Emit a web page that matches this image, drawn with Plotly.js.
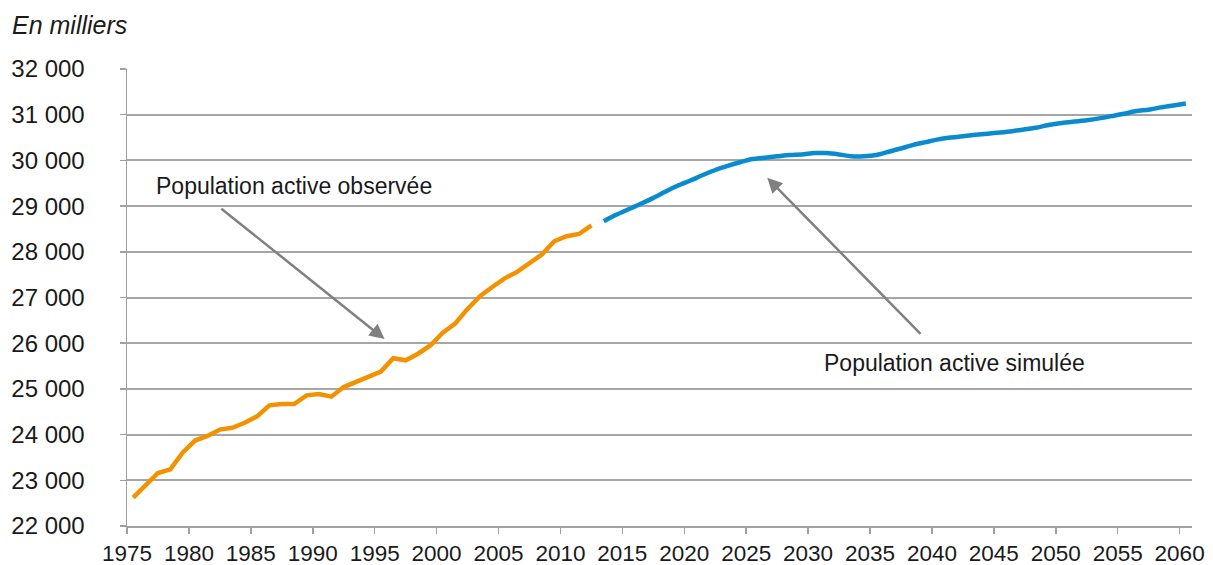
<!DOCTYPE html>
<html>
<head>
<meta charset="utf-8">
<script src="https://cdn.plot.ly/plotly-3.0.1.min.js"></script>
<style>
html,body{margin:0;padding:0;background:#fff;}
#chart{width:1213px;height:565px;}
</style>
</head>
<body>
<div id="chart"></div>
<script>
// Observed active population (thousands)
const obsYears = [1975,1976,1977,1978,1979,1980,1981,1982,1983,1984,1985,1986,1987,1988,1989,1990,1991,1992,1993,1994,1995,1996,1997,1998,1999,2000,2001,2002,2003,2004,2005,2006,2007,2008,2009,2010,2011,2012];
const obsValues = [22620,22890,23160,23240,23610,23870,23970,24110,24150,24260,24400,24640,24670,24670,24860,24890,24830,25040,25160,25260,25380,25670,25625,25770,25950,26230,26430,26750,27030,27230,27420,27560,27760,27940,28230,28340,28390,28580];

// Simulated active population (thousands)
const simYears = [2013,2014,2015,2016,2017,2018,2019,2020,2021,2022,2023,2024,2025,2026,2027,2028,2029,2030,2031,2032,2033,2034,2035,2036,2037,2038,2039,2040,2041,2042,2043,2044,2045,2046,2047,2048,2049,2050,2051,2052,2053,2054,2055,2056,2057,2058,2059,2060];
const simValues = [28670,28810,28930,29050,29180,29320,29450,29560,29680,29790,29880,29960,30030,30060,30090,30120,30130,30160,30160,30130,30090,30090,30120,30190,30260,30340,30400,30460,30500,30530,30560,30585,30610,30640,30680,30720,30780,30820,30850,30880,30920,30970,31020,31080,31110,31160,31200,31245];

// Axis tick labels
const xTickLabels = [1975,1980,1985,1990,1995,2000,2005,2010,2015,2020,2025,2030,2035,2040,2045,2050,2055,2060];
const yTickValues = [22000,23000,24000,25000,26000,27000,28000,29000,30000,31000,32000];

// Annotation texts
const labelObserved = "Population active observée";
const labelSimulated = "Population active simulée";
const unitLabel = "En milliers";

const font = "Liberation Sans, Arial, sans-serif";
const textColor = "#1a1a1a";
const arrowColor = "#808080";

const traces = [
  {x: obsYears, y: obsValues, type: 'scatter', mode: 'lines',
   line: {color: '#F39200', width: 4.5}, hoverinfo: 'x+y'},
  {x: simYears, y: simValues, type: 'scatter', mode: 'lines',
   line: {color: '#0A8BD0', width: 4.5, shape: 'spline', smoothing: 0.6}, hoverinfo: 'x+y'}
];

const layout = {
  width: 1213, height: 565,
  margin: {l: 127, r: 21, t: 69, b: 39},
  paper_bgcolor: '#fff', plot_bgcolor: '#fff',
  showlegend: false,
  separators: ', ',
  font: {family: font, size: 22, color: textColor},
  xaxis: {
    range: [1974.5, 2060.5],
    tickmode: 'array',
    tickvals: xTickLabels.map(v => v - 0.5),
    ticktext: xTickLabels.map(String),
    ticks: 'outside', ticklen: 6, tickwidth: 1.5, tickcolor: '#a0a0a0',
    showline: true, linecolor: '#a0a0a0', linewidth: 1.5,
    showgrid: false, zeroline: false,
    tickfont: {family: font, size: 22.5, color: textColor},
    fixedrange: true
  },
  yaxis: {
    range: [22000, 32000],
    tickmode: 'array',
    tickvals: yTickValues,
    tickformat: ',d',
    ticks: 'outside', ticklen: 6, tickwidth: 1.5, tickcolor: '#a0a0a0',
    ticklabelstandoff: 30,
    showline: true, linecolor: '#a0a0a0', linewidth: 1.5,
    showgrid: true, gridcolor: '#a6a6a6', gridwidth: 2,
    zeroline: false,
    tickfont: {family: font, size: 24, color: textColor},
    fixedrange: true
  },
  annotations: [
    {xref: 'paper', yref: 'paper', x: -117/1065, y: 1 + 44/457, xanchor: 'left', yanchor: 'middle',
     text: '<i>' + unitLabel + '</i>', showarrow: false,
     font: {family: font, size: 25, color: textColor}},
    {x: 1976.7, y: 29430, xanchor: 'left', yanchor: 'middle', text: labelObserved, showarrow: false,
     font: {family: font, size: 23, color: textColor}},
    {x: 2030.6, y: 25560, xanchor: 'left', yanchor: 'middle', text: labelSimulated, showarrow: false,
     font: {family: font, size: 23, color: textColor}},
    {x: 1995.3, y: 26090, ax: 1982.0, ay: 28970, axref: 'x', ayref: 'y', text: '',
     showarrow: true, arrowhead: 2, arrowsize: 1.2, arrowwidth: 2.5, arrowcolor: arrowColor},
    {x: 2026.2, y: 29620, ax: 2038.7, ay: 26170, axref: 'x', ayref: 'y', text: '',
     showarrow: true, arrowhead: 2, arrowsize: 1.2, arrowwidth: 2.5, arrowcolor: arrowColor}
  ]
};

Plotly.newPlot('chart', traces, layout, {displayModeBar: false, staticPlot: true});
</script>
</body>
</html>
